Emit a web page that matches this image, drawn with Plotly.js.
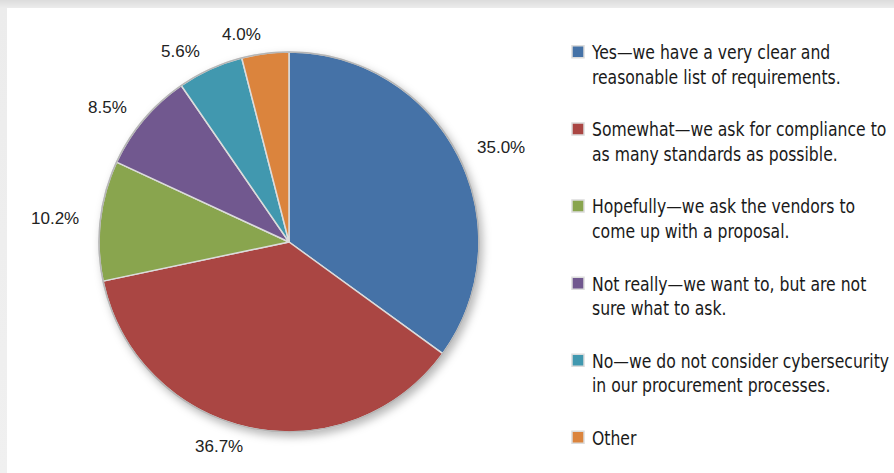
<!DOCTYPE html>
<html>
<head>
<meta charset="utf-8">
<script src="https://cdn.plot.ly/plotly-3.0.1.min.js"></script>
<style>
  html, body { margin:0; padding:0; width:894px; height:473px; overflow:hidden;
    background: linear-gradient(to bottom, #dcdcdc 0px, #ececec 8px, #f0f0f0 100%); }
  #panel { position:absolute; left:7px; top:8px; right:0; bottom:0; background:#ffffff; }
  #chart { position:absolute; left:0; top:0; width:894px; height:473px; }
  .pielayer { filter: drop-shadow(3px 4px 4px rgba(0,0,0,0.28)); }
  .legend .legendtext { transform-box: fill-box; transform-origin: 0 0; transform: scaleX(0.915); }
  .legend .legendpoints { transform: translate(6px, 0px); }
</style>
</head>
<body>
<div id="panel"></div>
<div id="chart"></div>
<script>
const categories = [
  "Yes—we have a very clear and<br>reasonable list of requirements.",
  "Somewhat—we ask for compliance to<br>as many standards as possible.",
  "Hopefully—we ask the vendors to<br>come up with a proposal.",
  "Not really—we want to, but are not<br>sure what to ask.",
  "No—we do not consider cybersecurity<br>in our procurement processes.",
  "Other"
];
const values = [35.0, 36.7, 10.2, 8.5, 5.6, 4.0];
const colors = ["#4572A7", "#AA4643", "#89A54E", "#71588F", "#4198AF", "#DB843D"];

const W = 894, H = 473;
const cx = 289, cy = 242, R = 190, labelDist = 19;

const legendLabels = categories.map((c, i) => i < categories.length - 1 ? c + "<br> " : c);

const total = values.reduce((a, b) => a + b, 0);
const annotations = [];
let cum = 0;
values.forEach((v) => {
  const mid = (cum + v / 2) / total * 2 * Math.PI;
  cum += v;
  const s = Math.sin(mid), c = Math.cos(mid);
  const d = R + labelDist;
  const px = cx + d * s, py = cy - d * c;
  annotations.push({
    x: px / W, y: 1 - py / H, xref: "paper", yref: "paper",
    text: v.toFixed(1) + "%", showarrow: false,
    xanchor: s >= 0 ? "left" : "right", yanchor: "middle",
    font: {family: "Liberation Sans, Arial, sans-serif", size: 17, color: "#222222"}
  });
});

const trace = {
  type: "pie",
  labels: legendLabels,
  values: values,
  sort: false,
  direction: "clockwise",
  rotation: 0,
  marker: {colors: colors, line: {color: "#dcdcdc", width: 1.5}},
  textinfo: "none",
  hoverinfo: "none",
  domain: {x: [(cx - R) / W, (cx + R) / W], y: [(H - cy - R) / H, (H - cy + R) / H]}
};

const layout = {
  width: W, height: H,
  margin: {l: 0, r: 0, t: 0, b: 0, autoexpand: false},
  paper_bgcolor: "rgba(0,0,0,0)",
  plot_bgcolor: "rgba(0,0,0,0)",
  showlegend: true,
  legend: {
    x: 552 / W, y: 1 - 33 / H, xanchor: "left", yanchor: "top",
    valign: "top",
    bgcolor: "rgba(0,0,0,0)",
    font: {family: "DejaVu Sans Condensed, DejaVu Sans, sans-serif", size: 19, color: "#1a1a1a"},
    traceorder: "normal"
  },
  annotations: annotations,
  shapes: [{
    type: "circle", xref: "paper", yref: "paper",
    x0: (cx - R) / W, x1: (cx + R) / W, y0: (H - cy - R) / H, y1: (H - cy + R) / H,
    line: {color: "#b5b5b5", width: 1.5}, fillcolor: "rgba(0,0,0,0)", layer: "above"
  }]
};

Plotly.newPlot("chart", [trace], layout, {staticPlot: true, displayModeBar: false});
</script>
</body>
</html>
